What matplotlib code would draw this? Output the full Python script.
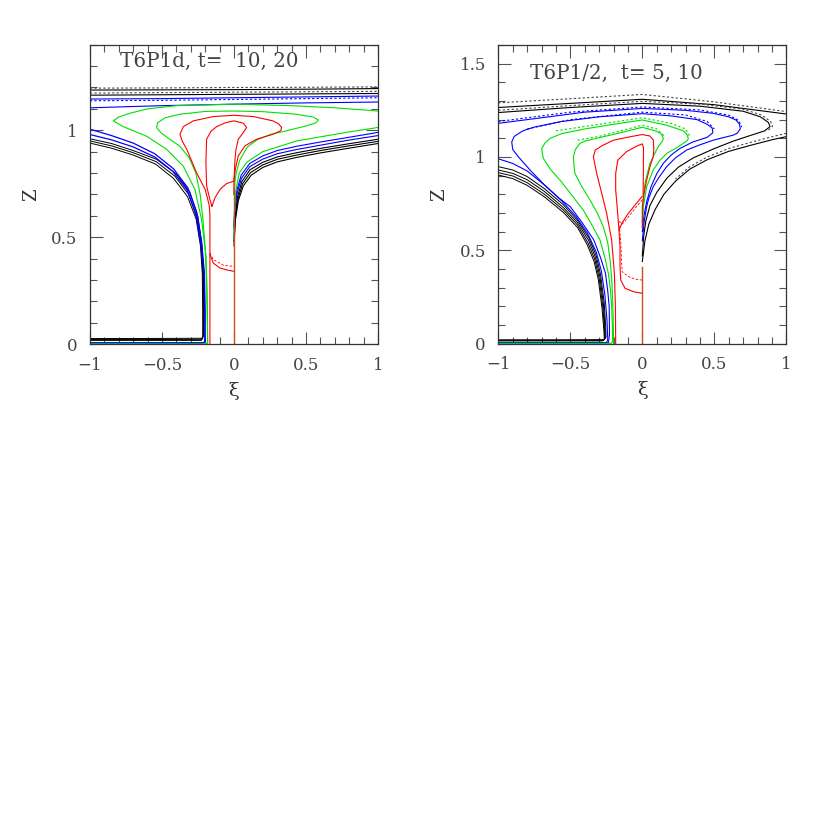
import matplotlib
matplotlib.use("Agg")
import matplotlib.pyplot as plt
from matplotlib.ticker import MultipleLocator

# ---------------- data: streamline contours ----------------
# Left panel: T6P1d, t = 10 (solid) and 20 (dashed)
L_black_top = [
    [(-1.0, 1.188), (-0.5, 1.189), (0.0, 1.19), (0.5, 1.192), (1.0, 1.195)],
    [(-1.0, 1.164), (-0.5, 1.166), (0.0, 1.168), (0.5, 1.17), (1.0, 1.172)],
]
L_black_top_dash = [
    [(-1.0, 1.197), (-0.5, 1.198), (0.0, 1.2), (0.5, 1.201), (1.0, 1.203)],
    [(-1.0, 1.174), (-0.5, 1.176), (0.0, 1.178), (0.5, 1.18), (1.0, 1.182)],
]
L_blue_top = [
    [(-1.0, 1.146), (-0.5, 1.148), (0.0, 1.152), (0.5, 1.156), (1.0, 1.16)],
    [(-1.0, 1.105), (-0.5, 1.115), (0.0, 1.122), (0.5, 1.128), (1.0, 1.132)],
]
L_blue_top_dash = [
    [(-1.0, 1.138), (-0.5, 1.14), (0.0, 1.144), (0.5, 1.148), (1.0, 1.152)],
]
L_green = [
    [(1.0, 1.09), (0.7, 1.105), (0.4, 1.115), (0.0, 1.122), (-0.4, 1.115), (-0.6, 1.1),
     (-0.72, 1.08), (-0.8, 1.062), (-0.838, 1.044), (-0.769, 1.017), (-0.606, 0.972),
     (-0.468, 0.911), (-0.352, 0.832), (-0.271, 0.723), (-0.225, 0.582), (-0.194, 0.41),
     (-0.185, 0.175), (-0.183, 0.008), (-0.19, 0.001), (-1.0, 0.001)],
    [(1.0, 1.013), (0.78, 0.99), (0.435, 0.95), (0.2, 0.9), (0.088, 0.85), (0.037, 0.8),
     (0.013, 0.72), (0.003, 0.61), (0.0, 0.5)],
    [(0.0, 0.70), (0.005, 0.75), (0.015, 0.80), (0.04, 0.86), (0.09, 0.92), (0.16, 0.955),
     (0.25, 0.98), (0.38, 1.0), (0.5, 1.02), (0.57, 1.035), (0.586, 1.048), (0.55, 1.062),
     (0.43, 1.075), (0.2, 1.087), (0.0, 1.09), (-0.2, 1.088), (-0.375, 1.075), (-0.48, 1.058),
     (-0.53, 1.035), (-0.537, 1.013), (-0.51, 0.99), (-0.45, 0.96), (-0.375, 0.925),
     (-0.31, 0.87), (-0.265, 0.8), (-0.235, 0.7), (-0.215, 0.58), (-0.2, 0.45), (-0.19, 0.3),
     (-0.185, 0.1), (-0.183, 0.0)],
]
L_red = [
    [(0.0, 0.70), (0.0, 0.77), (0.01, 0.82), (0.03, 0.88), (0.076, 0.927), (0.157, 0.958),
     (0.27, 0.981), (0.325, 0.998), (0.331, 1.013), (0.31, 1.03), (0.27, 1.044), (0.135, 1.064),
     (0.0, 1.07), (-0.144, 1.064), (-0.282, 1.044), (-0.352, 1.017), (-0.375, 0.981),
     (-0.36, 0.95), (-0.328, 0.911), (-0.259, 0.80), (-0.20, 0.723), (-0.172, 0.65),
     (-0.167, 0.6), (-0.167, 0.0)],
    [(-0.153, 0.645), (-0.167, 0.676), (-0.19, 0.739), (-0.195, 0.85), (-0.19, 0.958),
     (-0.16, 0.995), (-0.12, 1.017), (-0.06, 1.035), (0.0, 1.044), (0.065, 1.033),
     (0.088, 1.013), (0.06, 0.985), (0.03, 0.958), (0.014, 0.911), (0.007, 0.864),
     (0.0, 0.762), (-0.051, 0.751), (-0.097, 0.723), (-0.132, 0.684), (-0.153, 0.645)],
    [(-0.167, 0.42), (-0.155, 0.40), (-0.144, 0.379), (-0.097, 0.355), (-0.04, 0.345), (0.0, 0.34)],
]
L_red_dash = [
    [(-0.167, 0.425), (-0.144, 0.395), (-0.074, 0.369), (0.0, 0.363)],
]
L_black_low = [
    [(-1.0, 0.960), (-0.85, 0.938), (-0.7, 0.905), (-0.537, 0.864), (-0.40, 0.795),
     (-0.306, 0.71), (-0.25, 0.595), (-0.222, 0.46), (-0.212, 0.33), (-0.21, 0.15),
     (-0.21, 0.045), (-0.218, 0.027), (-0.6, 0.026), (-1.0, 0.026)],
    [(-1.0, 0.950), (-0.85, 0.927), (-0.7, 0.895), (-0.54, 0.853), (-0.41, 0.785),
     (-0.315, 0.70), (-0.257, 0.59), (-0.228, 0.46), (-0.216, 0.33), (-0.213, 0.15),
     (-0.213, 0.04), (-0.222, 0.022), (-0.6, 0.021), (-1.0, 0.021)],
    [(-1.0, 0.940), (-0.85, 0.916), (-0.7, 0.884), (-0.545, 0.842), (-0.42, 0.775),
     (-0.323, 0.69), (-0.263, 0.585), (-0.233, 0.46), (-0.22, 0.33), (-0.217, 0.15),
     (-0.217, 0.035), (-0.226, 0.017), (-1.0, 0.017)],
]
L_blue_low = [
    [(-1.0, 1.005), (-0.85, 0.975), (-0.7, 0.94), (-0.55, 0.89), (-0.42, 0.82), (-0.32, 0.73),
     (-0.26, 0.62), (-0.225, 0.48), (-0.205, 0.33), (-0.2, 0.15), (-0.2, 0.015), (-0.21, 0.006),
     (-1.0, 0.006)],
    [(-1.0, 0.98), (-0.85, 0.955), (-0.7, 0.922), (-0.55, 0.875), (-0.425, 0.808),
     (-0.325, 0.72), (-0.265, 0.61), (-0.23, 0.47), (-0.208, 0.33), (-0.203, 0.15),
     (-0.203, 0.012), (-0.21, 0.004), (-1.0, 0.004)],
]
L_black_right = [
    [(1.0, 0.958), (0.78, 0.935), (0.6, 0.915), (0.435, 0.895), (0.3, 0.875), (0.2, 0.85),
     (0.111, 0.815), (0.055, 0.76), (0.025, 0.69), (0.008, 0.6), (0.0, 0.5)],
    [(1.0, 0.948), (0.78, 0.925), (0.6, 0.905), (0.435, 0.884), (0.3, 0.864), (0.2, 0.838),
     (0.115, 0.802), (0.06, 0.75), (0.028, 0.68), (0.009, 0.59), (0.0, 0.48)],
    [(1.0, 0.938), (0.78, 0.914), (0.6, 0.894), (0.435, 0.873), (0.3, 0.852), (0.2, 0.826),
     (0.12, 0.79), (0.065, 0.74), (0.03, 0.67), (0.01, 0.58), (0.0, 0.46)],
]
L_blue_right = [
    [(1.0, 0.99), (0.78, 0.965), (0.6, 0.945), (0.435, 0.925), (0.3, 0.905), (0.2, 0.88),
     (0.11, 0.845), (0.05, 0.79), (0.02, 0.72), (0.005, 0.64), (0.0, 0.55)],
    [(1.0, 0.975), (0.78, 0.952), (0.6, 0.93), (0.435, 0.91), (0.3, 0.89), (0.2, 0.865),
     (0.11, 0.83), (0.052, 0.775), (0.022, 0.705), (0.006, 0.63), (0.0, 0.54)],
]
L_axis_line = [(0.0, 0.0), (0.0, 0.75)]

# Right panel: T6P1/2, t = 5 (solid) and 10 (dashed)
R_black_top = [
    [(-1.0, 1.265), (-0.5, 1.287), (0.0, 1.309), (0.5, 1.28), (1.0, 1.23)],
    [(-1.0, 1.238), (-0.5, 1.265), (0.0, 1.287), (0.4, 1.272), (0.7, 1.245), (0.82, 1.215),
     (0.875, 1.185), (0.887, 1.163), (0.85, 1.14), (0.75, 1.115), (0.632, 1.085),
     (0.5, 1.045), (0.354, 0.995), (0.25, 0.945), (0.169, 0.885), (0.1, 0.81), (0.053, 0.74),
     (0.025, 0.66), (0.01, 0.58), (0.0, 0.47)],
    [(1.0, 1.109), (0.9, 1.092), (0.75, 1.062), (0.6, 1.03), (0.45, 0.985), (0.33, 0.935),
     (0.23, 0.87), (0.15, 0.8), (0.09, 0.72), (0.045, 0.64), (0.018, 0.55), (0.0, 0.44)],
]
R_black_top_dash = [
    [(-1.0, 1.29), (-0.5, 1.312), (0.0, 1.335), (0.5, 1.295), (1.0, 1.243)],
    [(-1.0, 1.25), (-0.5, 1.275), (0.0, 1.298), (0.4, 1.283), (0.7, 1.256), (0.83, 1.224),
     (0.89, 1.19), (0.905, 1.165), (0.87, 1.14)],
    [(1.0, 1.127), (0.9, 1.108), (0.75, 1.078), (0.6, 1.045), (0.45, 1.0), (0.33, 0.948),
     (0.23, 0.882)],
]
R_black_low = [
    [(-1.0, 0.948), (-0.9, 0.93), (-0.8, 0.895), (-0.68, 0.83), (-0.55, 0.745), (-0.45, 0.66),
     (-0.37, 0.565), (-0.32, 0.47), (-0.29, 0.37), (-0.265, 0.22), (-0.255, 0.1),
     (-0.252, 0.035), (-0.265, 0.021), (-0.6, 0.02), (-1.0, 0.02)],
    [(-1.0, 0.930), (-0.9, 0.912), (-0.8, 0.878), (-0.68, 0.815), (-0.55, 0.73), (-0.45, 0.648),
     (-0.373, 0.553), (-0.325, 0.46), (-0.295, 0.36), (-0.27, 0.21), (-0.26, 0.09),
     (-0.257, 0.03), (-0.27, 0.017), (-1.0, 0.017)],
    [(-1.0, 0.916), (-0.9, 0.898), (-0.8, 0.862), (-0.68, 0.8), (-0.55, 0.717), (-0.45, 0.635),
     (-0.378, 0.54), (-0.33, 0.45), (-0.3, 0.35), (-0.275, 0.2), (-0.263, 0.08),
     (-0.26, 0.026), (-0.275, 0.014), (-1.0, 0.014)],
    [(-1.0, 0.903), (-0.9, 0.884), (-0.8, 0.848), (-0.68, 0.786), (-0.55, 0.704), (-0.45, 0.622),
     (-0.383, 0.53), (-0.335, 0.44), (-0.305, 0.34), (-0.28, 0.19), (-0.267, 0.07),
     (-0.264, 0.024)],
]
R_blue = [
    [(-1.0, 1.18), (-0.7, 1.21), (-0.4, 1.24), (0.0, 1.26), (0.3, 1.25), (0.49, 1.234),
     (0.6, 1.215), (0.65, 1.198), (0.675, 1.175), (0.68, 1.15), (0.66, 1.128), (0.632, 1.117),
     (0.493, 1.09), (0.4, 1.065), (0.308, 1.037), (0.23, 0.995), (0.169, 0.948),
     (0.115, 0.89), (0.076, 0.841), (0.045, 0.78), (0.03, 0.733), (0.012, 0.65), (0.0, 0.55)],
    [(0.0, 0.6), (0.01, 0.68), (0.03, 0.76), (0.06, 0.84), (0.1, 0.91), (0.146, 0.966),
     (0.2, 1.01), (0.26, 1.045), (0.35, 1.08), (0.45, 1.105), (0.49, 1.13), (0.485, 1.155),
     (0.45, 1.175), (0.38, 1.2), (0.2, 1.22), (0.0, 1.232), (-0.3, 1.215), (-0.56, 1.19),
     (-0.75, 1.16), (-0.83, 1.14), (-0.89, 1.11), (-0.907, 1.08), (-0.9, 1.04), (-0.86, 1.0),
     (-0.78, 0.93), (-0.68, 0.85), (-0.58, 0.78), (-0.5, 0.733), (-0.42, 0.65),
     (-0.337, 0.555), (-0.29, 0.46), (-0.256, 0.376), (-0.24, 0.28), (-0.23, 0.198),
     (-0.228, 0.05), (-0.235, 0.005), (-1.0, 0.005)],
    [(-1.0, 0.99), (-0.9, 0.965), (-0.8, 0.925), (-0.68, 0.85), (-0.56, 0.765), (-0.46, 0.68),
     (-0.38, 0.59), (-0.32, 0.49), (-0.285, 0.39), (-0.26, 0.26), (-0.245, 0.12),
     (-0.24, 0.02), (-0.25, 0.003), (-1.0, 0.003)],
]
R_blue_dash = [
    [(-1.0, 1.19), (-0.5, 1.24), (0.0, 1.268), (0.4, 1.252), (0.6, 1.224), (0.67, 1.195),
     (0.69, 1.16)],
    [(-0.8, 1.15), (-0.5, 1.2), (0.0, 1.24), (0.3, 1.225), (0.45, 1.19), (0.5, 1.15)],
]
R_green = [
    [(0.0, 0.62), (0.007, 0.733), (0.03, 0.84), (0.076, 0.93), (0.12, 0.98), (0.169, 1.019),
     (0.24, 1.05), (0.285, 1.073), (0.315, 1.09), (0.319, 1.10), (0.31, 1.12), (0.285, 1.14),
     (0.17, 1.17), (0.0, 1.198), (-0.2, 1.175), (-0.4, 1.15), (-0.56, 1.125), (-0.64, 1.1),
     (-0.675, 1.075), (-0.699, 1.046), (-0.695, 1.02), (-0.687, 0.992), (-0.64, 0.935),
     (-0.572, 0.876), (-0.49, 0.795), (-0.41, 0.715), (-0.35, 0.635), (-0.294, 0.555),
     (-0.26, 0.46), (-0.236, 0.376), (-0.222, 0.29), (-0.213, 0.198), (-0.208, 0.1),
     (-0.206, 0.012), (-0.215, 0.001), (-1.0, 0.001)],
    [(0.0, 0.65), (0.006, 0.77), (0.018, 0.859), (0.053, 0.966), (0.11, 1.055), (0.14, 1.085),
     (0.146, 1.10), (0.13, 1.125), (0.09, 1.14), (0.0, 1.159), (-0.15, 1.13), (-0.317, 1.1),
     (-0.4, 1.085), (-0.433, 1.073), (-0.465, 1.04), (-0.479, 1.0), (-0.475, 0.955),
     (-0.468, 0.912), (-0.42, 0.84), (-0.363, 0.769), (-0.31, 0.695), (-0.271, 0.626),
     (-0.24, 0.54), (-0.224, 0.448), (-0.212, 0.34), (-0.206, 0.234), (-0.202, 0.12),
     (-0.2, 0.019), (-0.2, 0.0)],
]
R_green_dash = [
    [(-0.6, 1.14), (-0.3, 1.175), (0.0, 1.21), (0.2, 1.18), (0.3, 1.15), (0.33, 1.11)],
    [(-0.45, 1.09), (-0.3, 1.11), (0.0, 1.17), (0.1, 1.15), (0.155, 1.11)],
]
R_red = [
    [(0.0, 0.62), (0.0, 0.733), (0.012, 0.805), (0.03, 0.876), (0.053, 0.948), (0.075, 1.0),
     (0.08, 1.037), (0.076, 1.091), (0.053, 1.112), (0.0, 1.12), (-0.086, 1.108), (-0.2, 1.09),
     (-0.28, 1.06), (-0.327, 1.037), (-0.34, 1.0), (-0.317, 0.912), (-0.282, 0.805),
     (-0.248, 0.698), (-0.213, 0.555), (-0.194, 0.376), (-0.187, 0.198), (-0.185, 0.0)],
    [(0.0, 0.269), (-0.063, 0.278), (-0.12, 0.296), (-0.15, 0.34), (-0.155, 0.412),
     (-0.155, 0.52), (-0.164, 0.626), (-0.175, 0.733), (-0.185, 0.823), (-0.185, 0.912),
     (-0.17, 0.983), (-0.11, 1.028), (-0.04, 1.058), (0.0, 1.07), (0.008, 1.05), (0.007, 0.9),
     (0.005, 0.8)],
    [(0.0, 0.79), (-0.04, 0.752), (-0.097, 0.698), (-0.143, 0.644), (-0.16, 0.61)],
]
R_red_dash = [
    [(0.0, 0.34), (-0.05, 0.345), (-0.1, 0.36), (-0.14, 0.385), (-0.145, 0.45), (-0.15, 0.55),
     (-0.16, 0.63)],
    [(0.0, 0.77), (-0.05, 0.725), (-0.1, 0.675), (-0.14, 0.64), (-0.17, 0.66)],
]
R_axis_line = [(0.0, 0.0), (0.0, 0.41)]

titles = ["T6P1d, t=  10, 20", "T6P1/2,  t= 5, 10"]
ylims = [1.4, 1.6]

# ---------------- drawing ----------------
plt.rcParams['font.family'] = ['DejaVu Serif', 'DejaVu Sans']
fig = plt.figure(figsize=(8.3, 8.3), dpi=100)
ax_l = fig.add_axes([0.1084, 0.5855, 0.3470, 0.3606])
ax_r = fig.add_axes([0.6004, 0.5861, 0.3470, 0.3597])

BLACK, BLUE, GREEN, RED = '#000000', '#0000ff', '#00e000', '#ff0000'
LW = 0.8


def draw(ax, curves, color, ls='-', lw=LW):
    for c in curves:
        xs = [p[0] for p in c]
        zs = [p[1] for p in c]
        ax.plot(xs, zs, color=color, ls=ls, lw=lw, solid_joinstyle='round')


def draw_axis_line(ax, c):
    ax.plot([p[0] for p in c], [p[1] for p in c], color='#c8501e', lw=1.0)


# left
draw(ax_l, L_black_top, BLACK)
draw(ax_l, L_black_top_dash, '#444444', ls=(0, (2, 2)))
draw(ax_l, L_blue_top, BLUE)
draw(ax_l, L_blue_top_dash, BLUE, ls=(0, (2, 2)))
draw(ax_l, L_black_low, BLACK, lw=0.7)
draw(ax_l, L_black_right, BLACK)
draw(ax_l, L_blue_low, BLUE, lw=0.9)
draw(ax_l, L_blue_right, BLUE)
draw(ax_l, L_green, GREEN)
draw(ax_l, L_red, RED)
draw(ax_l, L_red_dash, RED, ls=(0, (3, 2)), lw=0.6)
draw_axis_line(ax_l, L_axis_line)

# right
draw(ax_r, R_black_top, BLACK)
draw(ax_r, R_black_top_dash, '#444444', ls=(0, (2, 2)))
draw(ax_r, R_black_low, BLACK, lw=0.7)
draw(ax_r, R_blue, BLUE)
draw(ax_r, R_blue_dash, BLUE, ls=(0, (2, 2)))
draw(ax_r, R_green, GREEN)
draw(ax_r, R_green_dash, GREEN, ls=(0, (2, 2)))
draw(ax_r, R_red, RED)
draw(ax_r, R_red_dash, RED, ls=(0, (3, 2)), lw=0.6)
draw_axis_line(ax_r, R_axis_line)

title_pos = [(0.104, 0.943), (0.111, 0.906)]

for ax, title, ytop, tp in zip([ax_l, ax_r], titles, ylims, title_pos):
    ax.set_xlim(-1, 1)
    ax.set_ylim(0, ytop)
    ax.xaxis.set_major_locator(MultipleLocator(0.5))
    ax.xaxis.set_minor_locator(MultipleLocator(0.1))
    ax.yaxis.set_major_locator(MultipleLocator(0.5))
    ax.yaxis.set_minor_locator(MultipleLocator(0.1))
    ax.set_xticks([-1, -0.5, 0, 0.5, 1])
    ax.set_xticklabels(['\u22121', '\u22120.5', '0', '0.5', '1'])
    yt = [0, 0.5, 1] + ([1.5] if ytop > 1.5 else [])
    ax.set_yticks(yt)
    ax.set_yticklabels([('%g' % v) for v in yt])
    ax.tick_params(which='both', direction='in', top=True, right=True,
                   color='#555555', width=0.8, labelsize=12, labelcolor='#444444')
    ax.tick_params(which='major', length=9, pad=9)
    ax.tick_params(which='minor', length=5)
    for s in ax.spines.values():
        s.set_color('#333333')
        s.set_linewidth(0.9)
    ax.set_xlabel('\u03be', fontsize=14, labelpad=6, color='#333333')
    ax.set_ylabel('Z', fontsize=13, labelpad=8, color='#333333')
    ax.text(tp[0], tp[1], title, transform=ax.transAxes, fontsize=14.3,
            va='center', ha='left', color='#444444')

fig.savefig('out.png', dpi=100)
